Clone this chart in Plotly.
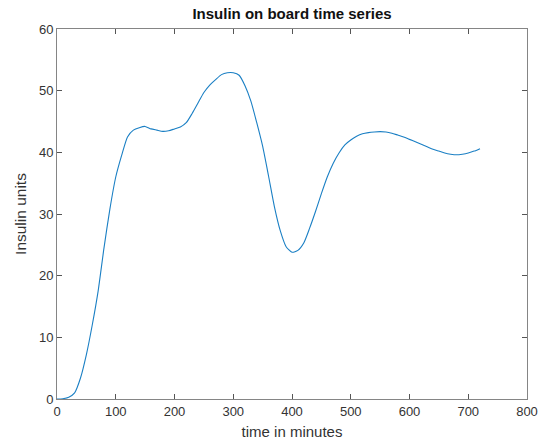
import plotly.graph_objects as go

time_min = [0, 10, 20, 30, 40, 50, 60, 70, 80, 90, 100, 110, 120, 130, 140, 150, 160, 170, 180, 190,
            200, 210, 220, 230, 240, 250, 260, 270, 280, 290, 300, 310, 320, 330, 340, 350, 360, 370,
            380, 390, 400, 410, 420, 430, 440, 450, 460, 470, 480, 490, 500, 510, 520, 530, 540, 550,
            560, 570, 580, 590, 600, 610, 620, 630, 640, 650, 660, 670, 680, 690, 700, 710, 720]
insulin = [0, 0.05, 0.3, 1.0, 3.4, 7.2, 12.0, 17.5, 24.5, 30.8, 36.0, 39.5, 42.5, 43.6, 44.0, 44.2,
           43.8, 43.6, 43.4, 43.5, 43.8, 44.1, 44.8, 46.3, 48.0, 49.7, 50.9, 51.8, 52.6, 52.9, 52.9,
           52.5, 50.8, 48.3, 44.8, 41.0, 36.2, 31.2, 27.3, 24.7, 23.8, 24.1, 25.3, 27.7, 30.4, 33.3,
           36.0, 38.2, 39.9, 41.2, 42.0, 42.6, 43.0, 43.2, 43.3, 43.35, 43.3, 43.1, 42.8, 42.5, 42.1,
           41.7, 41.3, 40.9, 40.5, 40.2, 39.9, 39.7, 39.6, 39.7, 39.9, 40.2, 40.6]

x_ticks = [0, 100, 200, 300, 400, 500, 600, 700, 800]
y_ticks = [0, 10, 20, 30, 40, 50, 60]

fig = go.Figure()
fig.add_trace(go.Scatter(x=time_min, y=insulin, mode="lines",
                         line=dict(color="#1a7fc4", width=1.1, shape="spline", smoothing=0.6),
                         hoverinfo="skip", showlegend=False, cliponaxis=False))

axis_common = dict(showline=True, linecolor="#858585", linewidth=1, mirror="ticks",
                   ticks="inside", ticklen=5, tickcolor="#555555", tickwidth=1,
                   showgrid=False, zeroline=False, automargin=False,
                   tickfont=dict(family="Liberation Sans, Arial", size=13, color="#333333"))

fig.update_layout(
    width=540, height=444,
    margin=dict(l=57, r=13, t=29, b=45),
    paper_bgcolor="white", plot_bgcolor="white",
    title=dict(text="<b>Insulin on board time series</b>", x=292 / 540, xanchor="center",
               y=1 - 14 / 444, yanchor="middle", yref="container",
               font=dict(family="Liberation Sans, Arial", size=15, color="#111111")),
    xaxis=dict(range=[0, 800], tickvals=x_ticks, ticktext=[str(v) for v in x_ticks],
               title=dict(text="time in minutes", standoff=8,
                          font=dict(family="Liberation Sans, Arial", size=15, color="#333333")),
               **axis_common),
    yaxis=dict(range=[0, 60], tickvals=y_ticks, ticktext=[str(v) for v in y_ticks],
               title=dict(text="Insulin units", standoff=8,
                          font=dict(family="Liberation Sans, Arial", size=15.5, color="#333333")),
               **axis_common),
)

fig.write_html("out.html", config={"displayModeBar": False, "staticPlot": True},
               post_script="document.body.style.margin='0';document.body.style.overflow='hidden';")
